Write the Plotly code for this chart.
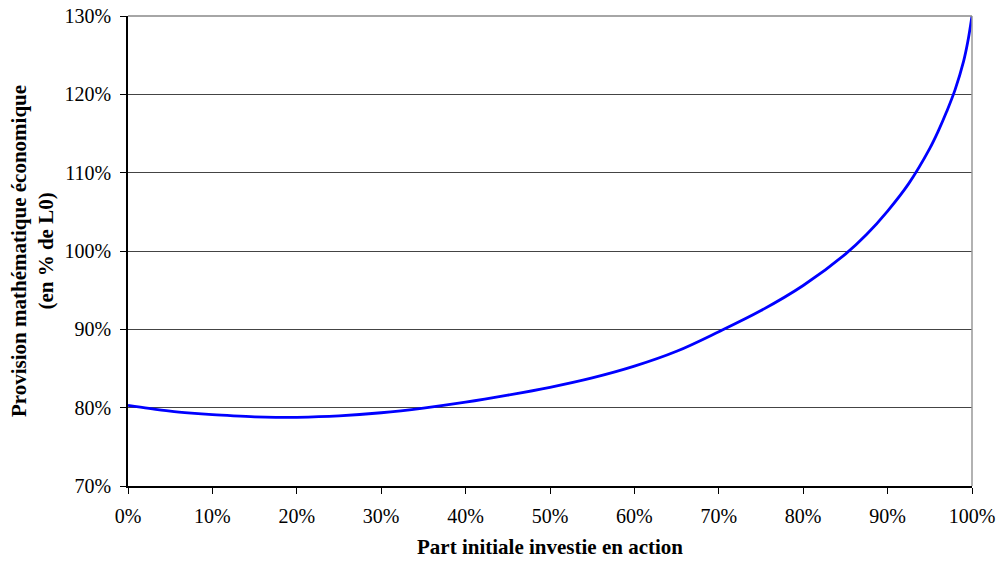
import plotly.graph_objects as go

part_action = [0, 2.5, 5, 7.5, 10, 12.5, 15, 17.5, 20, 25, 30, 35, 40, 45, 50, 55, 60, 65,
               70, 75, 80, 85, 87.5, 90, 92.5, 95, 96, 97, 98, 99, 99.5, 100]
provision = [80.3, 79.9, 79.55, 79.3, 79.1, 78.95, 78.83, 78.77, 78.77, 78.95, 79.35,
             79.95, 80.7, 81.6, 82.6, 83.8, 85.3, 87.2, 89.7, 92.4, 95.6, 99.6, 102.1,
             105.1, 108.6, 113.1, 115.3, 117.8, 120.6, 124.2, 126.7, 130.0]

x_ticks = list(range(0, 101, 10))
y_ticks = list(range(70, 131, 10))

font_family = "Liberation Serif, Times New Roman, serif"

fig = go.Figure()
fig.add_trace(go.Scatter(
    x=part_action, y=provision, mode="lines",
    line=dict(color="#0000FF", width=2.8, shape="spline", smoothing=1.0),
    hoverinfo="x+y", showlegend=False,
))

fig.update_layout(
    width=1000, height=561,
    margin=dict(l=128, r=28, t=16, b=75, autoexpand=False),
    paper_bgcolor="white", plot_bgcolor="white",
    font=dict(family=font_family, size=20, color="black"),
    xaxis=dict(
        range=[0, 100], tickvals=x_ticks, ticktext=[f"{v}%" for v in x_ticks],
        showgrid=False, zeroline=False, automargin=False,
        showline=True, linecolor="black", linewidth=1.5,
        ticks="outside", ticklen=6, tickcolor="black", tickwidth=1,
        ticklabelstandoff=5, ticklabeloverflow="allow",
    ),
    yaxis=dict(
        range=[70, 130], tickvals=y_ticks, ticktext=[f"{v}%" for v in y_ticks],
        showgrid=True, gridcolor="#444444", gridwidth=1, zeroline=False, automargin=False,
        showline=True, linecolor="black", linewidth=1.5,
        ticks="outside", ticklen=6, tickcolor="black", tickwidth=1,
        ticklabelstandoff=5, ticklabeloverflow="allow",
    ),
    annotations=[
        dict(text="<b>Part initiale investie en action</b>", xref="paper", yref="paper",
             x=0.5, y=0, yshift=-47, xanchor="center", yanchor="top", showarrow=False,
             font=dict(family=font_family, size=21)),
        dict(text="<b>Provision mathématique économique<br>(en % de L0)</b>",
             xref="paper", yref="paper", x=0, y=0.5, xshift=-96, textangle=-90,
             xanchor="center", yanchor="middle", showarrow=False, borderpad=0,
             font=dict(family=font_family, size=21)),
    ],
)

fig.add_shape(type="line", xref="paper", yref="paper", x0=1, x1=1, y0=0, y1=1,
              line=dict(color="#999999", width=1.5))
fig.add_shape(type="line", xref="paper", yref="paper", x0=0, x1=1, y0=1, y1=1,
              line=dict(color="#888888", width=1.5))

fig.write_html("out.html", config={"displayModeBar": False},
               post_script="document.body.style.margin='0';document.body.style.overflow='hidden';")
